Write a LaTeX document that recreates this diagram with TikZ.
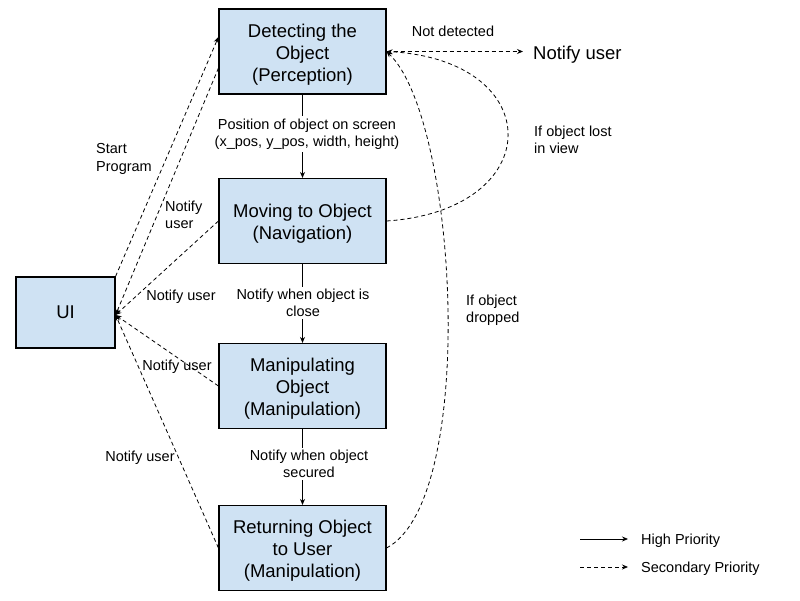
\documentclass[tikz,border=0pt]{standalone}
\usepackage{fontspec}
\setmainfont{Liberation Sans}
\usepackage{tikz}
\usetikzlibrary{positioning, arrows.meta}
\definecolor{boxblue}{HTML}{CFE2F3}
\newcommand{\toprule}{\rule{0pt}{19.5pt}}

\tikzset{
    stage/.style={draw=black, line width=1.1pt, fill=boxblue, minimum width=167pt, minimum height=85pt, align=center, inner sep=0pt, font=\fontsize{18.5}{22}\selectfont},
    note/.style={font=\fontsize{14.5}{17.5}\selectfont, inner sep=0pt},
    high/.style={line width=0.8pt, -{Stealth[length=6pt,width=5pt]}},
    low/.style={line width=0.8pt, dash pattern=on 4pt off 3pt, -{Stealth[length=6pt,width=5pt]}}
}

\begin{document}
\begin{tikzpicture}[x=1pt, y=-1pt]
    \useasboundingbox (0,0) rectangle (800,600);

    % Stages
    \node[stage] (detect) at (302.5,51.5) {\toprule Detecting the\\Object\\(Perception)};
    \node[stage] (move) at (302.5,221) {\toprule Moving to Object\\(Navigation)};
    \node[stage] (manip) at (302.5,386) {\toprule Manipulating\\Object\\(Manipulation)};
    \node[stage] (ret) at (302.5,548) {\toprule Returning Object\\to User\\(Manipulation)};

    % UI
    \node[stage, minimum width=99pt, minimum height=71pt] (ui) at (65.5,312.5) {UI};
    \coordinate (uiin) at ([yshift=-2.5pt]ui.east);

    % High priority flow
    \draw[high] (detect) -- (move);
    \node[note, fill=white, inner sep=2pt, align=center] (poslbl) at (307,134) {Position of object on screen\\(x\_pos, y\_pos, width, height)};
    \draw[high] (move) -- (manip);
    \node[note, fill=white, inner sep=2pt, align=center] (closelbl) at (303,303) {Notify when object is\\close};
    \draw[high] (manip) -- (ret);
    \node[note, fill=white, inner sep=2pt, align=center] (securelbl) at (309,464) {Notify when object\\secured};

    % Secondary flow to and from UI
    \draw[low] (ui.north east) -- ([yshift=14.5pt]detect.west);
    \node[note, anchor=west, align=left] (startlbl) at (96,159) {Start\\Program};
    \draw[low] ([yshift=-16.5pt]detect.west) -- (uiin);
    \node[note, anchor=west, align=left] (detuser) at (165,215) {Notify\\user};
    \draw[low] (move.west) -- (uiin);
    \node[note] (moveuser) at (181,297) {Notify user};
    \draw[low] (manip.west) -- (uiin);
    \node[note] (manipuser) at (177,367) {Notify user};
    \draw[low] (ret.west) -- (uiin);
    \node[note] (retuser) at (140,458) {Notify user};

    % Not detected
    \node[anchor=west, inner sep=0pt, font=\fontsize{18.5}{22}\selectfont] (notify) at (533,55) {Notify user};
    \draw[low] (detect.east) -- ([xshift=-10pt]detect.east -| notify.west);
    \node[note] (notdet) at (453,31) {Not detected};

    % Fall back to detection
    \draw[low] (move.east) .. controls (548,210) and (548,60) .. (detect.east);
    \node[note, anchor=west, align=left] (lostlbl) at (534,140) {If object lost\\in view};
    \draw[low] (ret.east) .. controls (478,500) and (458,120) .. (detect.east);
    \node[note, anchor=west, align=left] (droplbl) at (466,310) {If object\\dropped};

    % Legend
    \coordinate (hs) at (580,539);
    \coordinate (he) at (628,539);
    \draw[high] (hs) -- (he);
    \node[note, anchor=west] (highlbl) at (641,541) {High Priority};
    \coordinate (ls) at (580,567);
    \coordinate (le) at (628,567);
    \draw[low] (ls) -- (le);
    \node[note, anchor=west] (lowlbl) at (641,569) {Secondary Priority};

\end{tikzpicture}
\end{document}
